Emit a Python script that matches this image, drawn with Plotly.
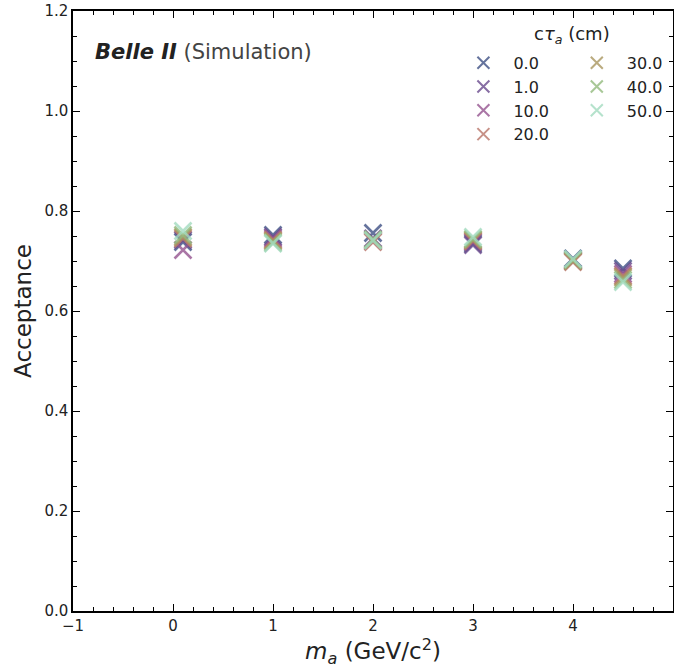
import plotly.graph_objects as go

mass = [0.1, 1.0, 2.0, 3.0, 4.0, 4.5]
ctau_labels = ["0.0", "1.0", "10.0", "20.0", "30.0", "40.0", "50.0"]
acc_0 = [0.738, 0.752, 0.756, 0.735, 0.705, 0.685]
acc_1 = [0.742, 0.748, 0.745, 0.732, 0.700, 0.680]
acc_10 = [0.722, 0.745, 0.740, 0.738, 0.702, 0.674]
acc_20 = [0.745, 0.742, 0.738, 0.740, 0.698, 0.670]
acc_30 = [0.748, 0.740, 0.742, 0.742, 0.700, 0.667]
acc_40 = [0.752, 0.737, 0.743, 0.744, 0.702, 0.662]
acc_50 = [0.760, 0.735, 0.741, 0.748, 0.704, 0.658]
acceptances = [acc_0, acc_1, acc_10, acc_20, acc_30, acc_40, acc_50]
colors = ["#3f5185", "#6a4a8e", "#955490", "#ba766a", "#aa9760", "#93bb7e", "#a3dcc0"]

fig = go.Figure()
for i, (lab, acc, col) in enumerate(zip(ctau_labels, acceptances, colors)):
    fig.add_trace(go.Scatter(
        x=mass, y=acc, mode="markers", name=lab,
        legend="legend" if i < 4 else "legend2",
        marker=dict(symbol="x-thin", size=17, opacity=0.8,
                    line=dict(width=2.6, color=col)),
    ))

axis_common = dict(
    showline=True, linecolor="black", linewidth=1.5, mirror="ticks",
    ticks="inside", ticklen=7, tickwidth=1.2, tickcolor="black",
    showgrid=False, zeroline=False, automargin=False,
    tickfont=dict(family="DejaVu Sans", size=15, color="#222"),
)

fig.update_xaxes(range=[-1, 5], dtick=1, tick0=0,
                 minor=dict(ticks="inside", ticklen=4, dtick=0.2, tick0=0, tickcolor="black", showgrid=False),
                 title=dict(text="<i>m<sub>a</sub></i> (GeV/c<sup>2</sup>)",
                            font=dict(family="DejaVu Sans", size=23, color="#222"), standoff=4),
                 **axis_common)
fig.update_yaxes(range=[0, 1.2], dtick=0.2, tick0=0, tickformat=".1f",
                 minor=dict(ticks="inside", ticklen=4, dtick=0.05, tick0=0, tickcolor="black", showgrid=False),
                 title=dict(text="Acceptance",
                            font=dict(family="DejaVu Sans", size=23, color="#222"), standoff=6),
                 **axis_common)

legend_common = dict(
    bgcolor="rgba(0,0,0,0)", borderwidth=0,
    font=dict(family="DejaVu Sans", size=16, color="#222"),
    itemsizing="constant", itemwidth=50, tracegroupgap=0,
    xanchor="left", yanchor="top",
)
fig.update_layout(
    width=674, height=670,
    margin=dict(l=73, r=1, t=11, b=59),
    paper_bgcolor="white", plot_bgcolor="white",
    showlegend=True,
    legend=dict(x=0.634, y=0.942, **legend_common),
    legend2=dict(x=0.823, y=0.942, **legend_common),
    annotations=[
        dict(text="<b><i>Belle II</i></b><span style='color:#444'> (Simulation)</span>",
             xref="paper", yref="paper", x=0.033, y=0.932, xanchor="left", yanchor="middle",
             showarrow=False, font=dict(family="DejaVu Sans", size=21, color="#222")),
        dict(text="c<i>τ<sub>a</sub></i> (cm)",
             xref="paper", yref="paper", x=0.832, y=0.96, xanchor="center", yanchor="middle",
             showarrow=False, font=dict(family="DejaVu Sans", size=18, color="#222")),
    ],
)

fig.write_html("out.html", config={"displayModeBar": False},
               post_script="document.body.style.margin='0';")
